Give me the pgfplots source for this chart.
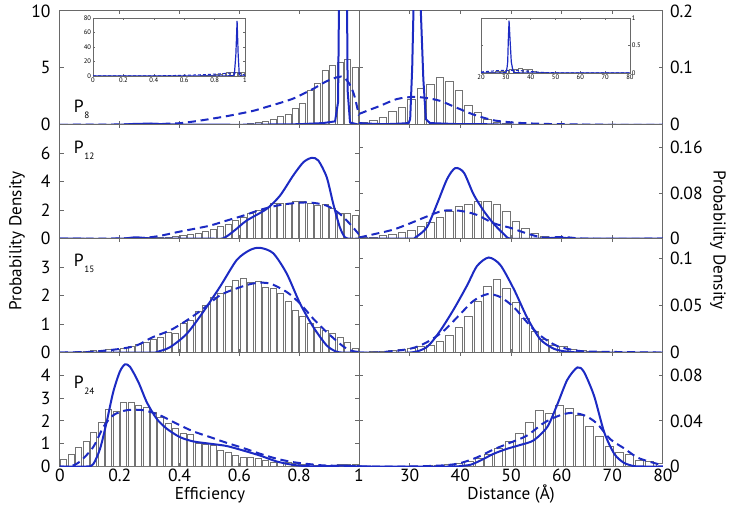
\documentclass[border=0pt]{standalone}
\usepackage{fontspec}
\setmainfont{PT Sans}
\usepackage{pgfplots}
\pgfplotsset{compat=1.18}
\usepackage{pgfplotstable}

\definecolor{lineblue}{RGB}{28,42,195}
\definecolor{axgray}{RGB}{105,105,105}
\definecolor{bargray}{RGB}{115,115,115}

\newcommand\tickfont{\fontsize{8.8}{9.5}\selectfont}
\newcommand\labfont{\fontsize{8.6}{9.5}\selectfont}
\newcommand\insetfont{\fontsize{3.3}{3.6}\selectfont}
\newcommand\Plab[1]{P\kern0.3pt\raisebox{-3pt}{\fontsize{4.6}{5}\selectfont #1}}

\pgfplotstableread{
x p8 p12 p15 p24
0.0125 0 0.01 0.01 0.29
0.0375 0 0.01 0.02 0.51
0.0625 0 0.02 0.03 0.85
0.0875 0 0.02 0.04 1.12
0.1125 0 0.03 0.06 1.51
0.1375 0 0.03 0.07 1.95
0.1625 0 0.03 0.10 2.51
0.1875 0 0.04 0.12 2.40
0.2125 0.01 0.04 0.15 2.80
0.2375 0.01 0.05 0.20 2.79
0.2625 0.01 0.05 0.27 2.69
0.2875 0.01 0.06 0.35 2.61
0.3125 0.01 0.07 0.45 2.37
0.3375 0.01 0.09 0.54 2.17
0.3625 0.01 0.11 0.72 1.88
0.3875 0.01 0.14 0.68 1.66
0.4125 0.01 0.21 1.01 1.44
0.4375 0.01 0.28 1.13 1.41
0.4625 0.01 0.38 1.43 1.00
0.4875 0.01 0.49 1.64 0.96
0.5125 0.02 0.68 1.93 0.93
0.5375 0.03 0.85 2.07 0.70
0.5625 0.04 1.03 2.31 0.63
0.5875 0.05 1.27 2.52 0.48
0.6125 0.07 1.50 2.60 0.41
0.6375 0.10 1.74 2.45 0.41
0.6625 0.20 2.00 2.49 0.37
0.6875 0.28 2.14 2.28 0.26
0.7125 0.50 2.47 2.25 0.19
0.7375 0.70 2.47 2.07 0.19
0.7625 0.95 2.47 1.80 0.16
0.7875 1.40 2.65 1.48 0.12
0.8125 1.90 2.60 1.27 0.09
0.8375 3.00 2.47 1.01 0.07
0.8625 3.60 2.30 0.87 0.04
0.8875 4.80 2.40 0.78 0.04
0.9125 5.20 2.14 0.66 0.04
0.9375 5.50 1.76 0.52 0.07
0.9625 5.70 1.74 0.36 0.09
0.9875 5.00 1.60 0.13 0.09
}\leftbars

\pgfplotstableread{
x p8 p12 p15
20.9375 0.004 0.002 0.0005
22.8125 0.007 0.003 0.001
24.6875 0.013 0.005 0.001
26.5625 0.023 0.008 0.002
28.4375 0.031 0.011 0.003
30.3125 0.044 0.015 0.004
32.1875 0.063 0.021 0.006
34.0625 0.070 0.029 0.008
35.9375 0.083 0.038 0.012
37.8125 0.076 0.048 0.018
39.6875 0.060 0.056 0.027
41.5625 0.034 0.060 0.038
43.4375 0.022 0.066 0.054
45.3125 0.009 0.065 0.070
47.1875 0.004 0.060 0.078
49.0625 0.002 0.048 0.068
50.9375 0.001 0.031 0.053
52.8125 0 0.018 0.036
54.6875 0 0.009 0.022
56.5625 0 0.004 0.014
58.4375 0 0.002 0.008
60.3125 0 0.001 0.006
62.1875 0 0.001 0.003
64.0625 0 0 0.002
65.9375 0 0 0.001
67.8125 0 0 0.001
69.6875 0 0 0
71.5625 0 0 0
73.4375 0 0 0
75.3125 0 0 0
77.1875 0 0 0
79.0625 0 0 0
}\rightbars

\pgfplotstableread{
x y
33.7 0.0005
35.7 0.001
37.7 0.0015
39.7 0.0023
41.7 0.0044
43.7 0.0067
45.6 0.0103
47.6 0.0155
49.6 0.0223
51.6 0.0293
53.6 0.039
55.6 0.049
57.6 0.047
59.6 0.054
61.6 0.051
63.5 0.045
65.5 0.035
67.5 0.026
69.5 0.018
71.5 0.012
73.4 0.011
75.4 0.0053
77.4 0.0047
79.4 0.0029
}\rightbarsfour

\pgfplotstableread{
x y
0 0
0.2 0
0.25 0.08
0.3 0.1
0.35 0.05
0.4 0.02
0.6 0
0.8 0.05
0.88 0.15
0.92 0.3
0.93 2
0.94 30
0.948 76
0.955 30
0.962 3
0.97 0.2
1 0
}\LoneSolid

\pgfplotstableread{
x y
0 0
0.1 0.01
0.2 0.03
0.3 0.07
0.39 0.12
0.45 0.3
0.5 0.5
0.55 0.72
0.6 0.97
0.65 1.25
0.69 1.56
0.74 1.95
0.78 2.3
0.82 2.8
0.85 3.2
0.89 3.8
0.93 4.2
0.95 4.15
0.97 3.5
0.985 2.5
1.0 0.8
}\LoneDash

\pgfplotstableread{
x y
20 0.003
22 0.002
25 0.001
28 0.002
29.8 0.003
30.1 0.01
30.5 0.1
30.75 0.2
31.0 0.6
31.3 0.95
31.7 0.6
32.2 0.2
32.7 0.08
33.2 0.01
34 0.003
40 0.001
45 0.001
50 0
80 0
}\RoneSolid

\pgfplotstableread{
x y
20 0.019
22 0.026
24.1 0.033
27.4 0.045
30.7 0.049
33.3 0.047
36 0.042
39 0.031
42.6 0.018
46.5 0.008
50.4 0.004
55 0.002
60 0.001
70 0
80 0
}\RoneDash

\pgfplotsset{
  panel/.style={scale only axis, height=56.95pt,
    axis line style={axgray, line width=0.5pt},
    tick style={axgray, line width=0.5pt},
    tick align=inside, major tick length=1.8pt,
    ticklabel style={font=\tickfont},
    /pgf/number format/assume math mode=true,
    /pgf/number format/fixed, /pgf/number format/precision=2,
    scaled y ticks=false, scaled x ticks=false, clip=true},
  leftpanel/.style={panel, width=149.5pt, xmin=0, xmax=1,
    xtick={0,0.2,0.4,0.6,0.8,1}, yticklabel style={xshift=-1.2pt},
    xticklabel style={inner sep=0pt, yshift=-1pt}},
  rightpanel/.style={panel, width=152pt, xmin=20, xmax=80,
    xtick={30,40,50,60,70,80}, yticklabel pos=right,
    xticklabel style={inner sep=0pt, yshift=-1pt}},
  bars/.style={ybar, draw=bargray, fill=white, line width=0.45pt},
  solidline/.style={lineblue, line width=1pt},
  dashline/.style={lineblue, line width=1pt, dash pattern=on 4pt off 2.4pt},
  inset/.style={scale only axis, axis background/.style={fill=white},
    axis line style={axgray, line width=0.3pt},
    tick style={axgray, line width=0.3pt},
    tick align=inside, major tick length=1pt,
    ticklabel style={font=\insetfont, inner sep=0.8pt},
    /pgf/number format/assume math mode=true,
    /pgf/number format/fixed, /pgf/number format/precision=2,
    scaled y ticks=false, scaled x ticks=false},
}

\begin{document}
\begin{tikzpicture}
\path[use as bounding box, fill=white] (0,0) rectangle (364.5pt,256pt);

% ---------- Row 1 ----------
\begin{axis}[leftpanel, at={(30pt,193.6pt)}, anchor=south west,
  ymin=0, ymax=10, ytick={0,5,10}, xticklabels={}]
\addplot[bars, bar width=0.02] table[x=x,y=p8] {\leftbars};
\addplot[dashline, smooth] table {\LoneDash};
\addplot[solidline, sharp plot] table {\LoneSolid};
\node[anchor=base west, font=\fontsize{8.8}{9}\selectfont] at (rel axis cs:0.023,0.112) {\Plab{8}};
\end{axis}

\begin{axis}[rightpanel, at={(179.5pt,193.6pt)}, anchor=south west,
  ymin=0, ymax=0.2, ytick={0,0.1,0.2}, xticklabels={}]
\addplot[bars, bar width=1.5] table[x=x,y=p8] {\rightbars};
\addplot[dashline, smooth] table {\RoneDash};
\addplot[solidline, sharp plot] table {\RoneSolid};
\end{axis}

% insets
\begin{axis}[inset, at={(46.5pt,218pt)}, anchor=south west, width=76pt, height=29pt,
  xmin=0, xmax=1, ymin=0, ymax=80, xtick={0,0.2,0.4,0.6,0.8,1}, ytick={0,20,40,60,80}]
\addplot[ybar, draw=bargray, fill=white, line width=0.25pt, bar width=0.02] table[x=x,y=p8] {\leftbars};
\addplot[lineblue, line width=0.5pt, dash pattern=on 1.5pt off 1pt, smooth] table {\LoneDash};
\addplot[lineblue, line width=0.6pt, sharp plot] table {\LoneSolid};
\end{axis}

\begin{axis}[inset, at={(240.5pt,219.5pt)}, anchor=south west, width=74.5pt, height=27.5pt,
  xmin=20, xmax=80, ymin=0, ymax=1, xtick={20,30,40,50,60,70,80}, ytick={0,0.5,1},
  yticklabel pos=right]
\addplot[ybar, draw=bargray, fill=white, line width=0.25pt, bar width=1.5] table[x=x,y=p8] {\rightbars};
\addplot[lineblue, line width=0.5pt, dash pattern=on 1.5pt off 1pt, smooth] table {\RoneDash};
\addplot[lineblue, line width=0.6pt, sharp plot] table {\RoneSolid};
\end{axis}

% ---------- Row 2 ----------
\begin{axis}[leftpanel, at={(30pt,136.65pt)}, anchor=south west,
  ymin=0, ymax=8, ytick={0,2,4,6}, xticklabels={}]
\addplot[bars, bar width=0.02] table[x=x,y=p12] {\leftbars};
\addplot[dashline, smooth] coordinates {(0,0) (0.15,0) (0.2,0.02) (0.279,0.05) (0.334,0.2) (0.39,0.45) (0.446,0.68) (0.502,0.92) (0.557,1.27) (0.613,1.62) (0.669,2.02) (0.725,2.32) (0.78,2.49) (0.836,2.54) (0.892,2.32) (0.936,1.74) (0.97,1.03) (1.0,0.3)};
\addplot[solidline, smooth, tension=0.45] coordinates {(0,0) (0.2,0) (0.25,0.1) (0.3,0.02) (0.35,0) (0.5,0) (0.546,0.03) (0.585,0.6) (0.624,1.27) (0.691,2.09) (0.736,3.03) (0.78,4.44) (0.814,5.37) (0.842,5.68) (0.864,5.49) (0.892,4.32) (0.914,2.44) (0.936,0.8) (0.953,0.1) (0.97,0) (1,0)};
\node[anchor=base west, font=\fontsize{8.8}{9}\selectfont] at (rel axis cs:0.023,0.752) {\Plab{12}};
\end{axis}

\begin{axis}[rightpanel, at={(179.5pt,136.65pt)}, anchor=south west,
  ymin=0, ymax=0.2, ytick={0,0.08,0.16}, xticklabels={}]
\addplot[bars, bar width=1.5] table[x=x,y=p12] {\rightbars};
\addplot[dashline, smooth] coordinates {(20,0.002) (23.5,0.009) (26.8,0.016) (30.1,0.027) (33.4,0.039) (36.6,0.049) (39.9,0.049) (43.2,0.042) (46.6,0.027) (49.9,0.019) (53.2,0.009) (56.4,0.002) (60.4,0.003) (65,0) (80,0)};
\addplot[solidline, smooth, tension=0.45] coordinates {(20,0) (30,0) (31.1,0.002) (33.4,0.020) (35.4,0.061) (37.4,0.105) (39.0,0.124) (40.7,0.116) (42.6,0.078) (44.6,0.049) (46.6,0.026) (48.6,0.008) (49.9,0.0) (55,0) (60,0.002) (63,0) (80,0)};
\end{axis}

% ---------- Row 3 ----------
\begin{axis}[leftpanel, at={(30pt,79.7pt)}, anchor=south west,
  ymin=0, ymax=4, ytick={0,1,2,3}, xticklabels={}]
\addplot[bars, bar width=0.02] table[x=x,y=p15] {\leftbars};
\addplot[dashline, smooth] coordinates {(0,0) (0.05,0.01) (0.11,0.03) (0.2,0.13) (0.256,0.25) (0.31,0.54) (0.368,0.78) (0.424,1.13) (0.479,1.54) (0.535,2.01) (0.59,2.25) (0.647,2.43) (0.70,2.43) (0.758,2.13) (0.803,1.72) (0.847,1.19) (0.892,0.72) (0.936,0.31) (0.96,0.13) (0.98,0.05) (1,0.02)};
\addplot[solidline, smooth, tension=0.45] coordinates {(0,0) (0.3,0) (0.323,0.02) (0.368,0.19) (0.424,0.66) (0.479,1.43) (0.535,2.31) (0.591,3.25) (0.635,3.6) (0.669,3.68) (0.713,3.49) (0.758,2.78) (0.803,1.72) (0.847,0.9) (0.892,0.25) (0.925,0.03) (0.95,0) (1,0)};
\node[anchor=base west, font=\fontsize{8.8}{9}\selectfont] at (rel axis cs:0.023,0.752) {\Plab{15}};
\end{axis}

\begin{axis}[rightpanel, at={(179.5pt,79.7pt)}, anchor=south west,
  ymin=0, ymax=0.121, ytick={0,0.05,0.1}, xticklabels={}]
\addplot[bars, bar width=1.5] table[x=x,y=p15] {\rightbars};
\addplot[dashline, smooth] coordinates {(20,0) (23.5,0.0) (30,0.004) (33.4,0.011) (36.7,0.023) (40,0.041) (42.6,0.055) (45.3,0.062) (47.9,0.059) (50.6,0.048) (53.2,0.032) (55.8,0.018) (59.1,0.007) (63.1,0.002) (66.4,0.001) (80,0)};
\addplot[solidline, smooth, tension=0.45] coordinates {(20,0) (30,0) (33.4,0.006) (36,0.023) (38.7,0.046) (41.3,0.071) (43.3,0.092) (45.6,0.101) (47.9,0.093) (50.6,0.067) (53.2,0.037) (55.8,0.014) (58.5,0.004) (61.1,0.001) (65,0) (80,0)};
\end{axis}

% ---------- Row 4 ----------
\begin{axis}[leftpanel, at={(30pt,22.75pt)}, anchor=south west,
  ymin=0, ymax=5, ytick={0,1,2,3,4}]
\addplot[bars, bar width=0.02] table[x=x,y=p24] {\leftbars};
\addplot[dashline, smooth] coordinates {(0,0) (0.033,0) (0.067,0.22) (0.111,0.85) (0.145,1.73) (0.178,2.25) (0.223,2.47) (0.279,2.47) (0.334,2.25) (0.39,1.88) (0.446,1.54) (0.502,1.29) (0.557,1.04) (0.613,0.81) (0.669,0.56) (0.725,0.34) (0.78,0.19) (0.836,0.10) (0.892,0.04) (1.0,0.01)};
\addplot[solidline, smooth, tension=0.45] coordinates {(0,0) (0.089,0) (0.111,0.1) (0.134,0.78) (0.156,1.95) (0.178,3.27) (0.2,4.16) (0.217,4.48) (0.234,4.38) (0.262,3.71) (0.29,2.83) (0.323,2.10) (0.357,1.66) (0.401,1.29) (0.446,1.10) (0.502,1.0) (0.557,0.90) (0.613,0.70) (0.669,0.48) (0.725,0.22) (0.78,0.07) (0.836,0.01) (0.9,0.02) (0.948,0.04) (1.0,0)};
\node[anchor=base west, font=\fontsize{8.8}{9}\selectfont] at (rel axis cs:0.023,0.689) {\Plab{24}};
\end{axis}

\begin{axis}[rightpanel, at={(179.5pt,22.75pt)}, anchor=south west,
  ymin=0, ymax=0.1, ytick={0,0.04,0.08}]
\addplot[bars, bar width=1.58] table {\rightbarsfour};
\addplot[dashline, smooth] coordinates {(20,0) (30,0) (36.7,0.001) (40,0.003) (43.3,0.008) (46.6,0.015) (49.9,0.021) (53.1,0.027) (56.4,0.038) (59.1,0.044) (61.7,0.047) (64.4,0.045) (66.9,0.038) (69.6,0.024) (72.3,0.016) (74.9,0.008) (77.5,0.004) (80,0.001)};
\addplot[solidline, smooth, tension=0.45] coordinates {(20,0) (38,0) (40,0.0005) (42,0.0015) (44,0.0053) (46.6,0.0112) (49.2,0.0155) (51.9,0.019) (54.5,0.023) (57.2,0.035) (59.1,0.054) (61.1,0.076) (63.1,0.087) (64.4,0.083) (66.4,0.062) (68.4,0.030) (70.4,0.011) (72.3,0.0032) (74.3,0.0003) (76,0) (80,0)};
\end{axis}

% ---------- labels ----------
\node[font=\labfont, anchor=base] at (105pt,6.1pt) {Efficiency};
\node[font=\labfont, anchor=base] at (255.5pt,6.1pt) {Distance (Å)};
\node[font=\labfont, rotate=90] at (8.5pt,135.5pt) {Probability Density};
\node[font=\labfont, rotate=-90] at (359pt,136pt) {Probability Density};
\end{tikzpicture}
\end{document}
